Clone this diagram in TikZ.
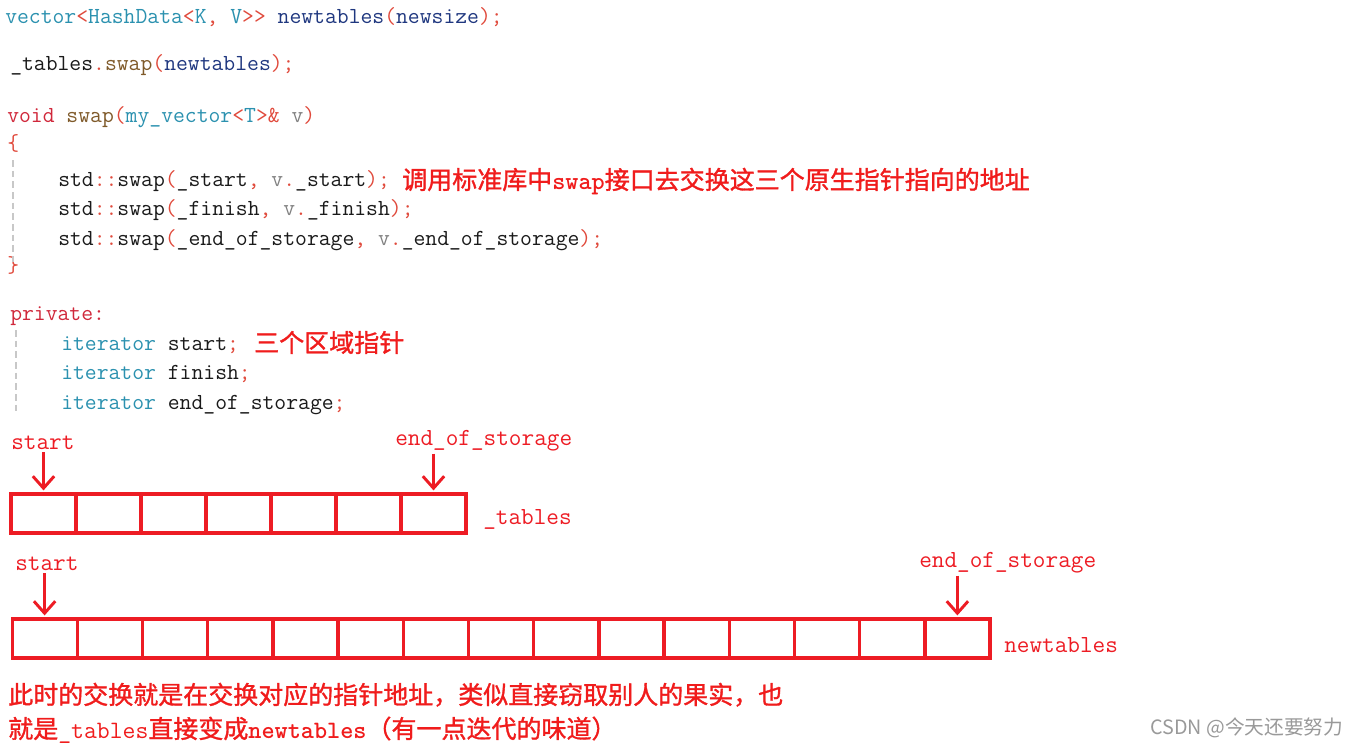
\documentclass[tikz,border=0pt]{standalone}
\usepackage{fontspec}
\newfontfamily\cjk{Noto Sans CJK SC}
\newfontfamily\cjkheavy{Noto Sans CJK SC}[FakeBold=1.3]
\usetikzlibrary{arrows.meta,positioning}
\definecolor{codetype}{HTML}{2B91AF}
\definecolor{codepunc}{HTML}{E04A3C}
\definecolor{codevar}{HTML}{1F377F}
\definecolor{codekw}{HTML}{D0283B}
\definecolor{codefn}{HTML}{7F5A2A}
\definecolor{codepar}{HTML}{808080}
\definecolor{codeink}{HTML}{1A1A1A}
\definecolor{tabred}{HTML}{ED1C24}
\definecolor{notered}{HTML}{F01C1C}
\definecolor{guidegray}{HTML}{C8C8C8}
\definecolor{markgray}{HTML}{999999}
\newcommand{\ctype}[1]{\textcolor{codetype}{#1}}
\newcommand{\cpunc}[1]{\textcolor{codepunc}{#1}}
\newcommand{\cvar}[1]{\textcolor{codevar}{#1}}
\newcommand{\ckw}[1]{\textcolor{codekw}{#1}}
\newcommand{\cfn}[1]{\textcolor{codefn}{#1}}
\newcommand{\cpar}[1]{\textcolor{codepar}{#1}}
\tikzset{
  code/.style={anchor=base west, inner sep=0pt, text=codeink, font=\ttfamily\fontsize{17.25pt}{20pt}\selectfont},
  note/.style={anchor=base west, inner sep=0pt, text=notered, font=\cjkheavy\fontsize{18.75pt}{22pt}\selectfont},
  lbl/.style={anchor=base west, inner sep=0pt, text=tabred, font=\ttfamily\fontsize{18.4pt}{22pt}\selectfont},
  cell/.style={draw=tabred, line width=2.4pt, minimum width=48.75pt, minimum height=29.25pt, inner sep=0pt},
  ptr/.style={draw=tabred, line width=2.2pt, -{Straight Barb[length=9pt,width=16pt]}, shorten <=2pt, shorten >=1.5pt},
  guide/.style={draw=guidegray, line width=1.2pt, dash pattern=on 5pt off 3pt},
}

\begin{document}
\begin{tikzpicture}[x=0.75pt,y=-0.75pt]
  \useasboundingbox (0,0) rectangle (1353,746);
  % code lines
  \node[code] (decl) at (5,23) {\ctype{vector}\cpunc{<}\ctype{HashData}\cpunc{<}\ctype{K}\cpunc{,} \ctype{V}\cpunc{>>} \cvar{newtables}\cpunc{(}\cvar{newsize}\cpunc{);}};
  \node[code] (call) at (10,70) {\_tables\cpunc{.}\cfn{swap}\cpunc{(}\cvar{newtables}\cpunc{);}};
  \node[code] (head) at (7,122) {\ckw{void} \cfn{swap}\cpunc{(}\ctype{my\_vector}\cpunc{<}\ctype{T}\cpunc{>\&} \cpar{v}\cpunc{)}};
  \node[code] (lbr) at (7,150) {\cpunc{\{}};
  \node[code] (sw1) at (58,186) {std\cpunc{::}swap\cpunc{(}\_start\cpunc{,} \cpar{v}\cpunc{.}\_start\cpunc{);}};
  \node[code] (sw2) at (58,215) {std\cpunc{::}swap\cpunc{(}\_finish\cpunc{,} \cpar{v}\cpunc{.}\_finish\cpunc{);}};
  \node[code] (sw3) at (58,245) {std\cpunc{::}swap\cpunc{(}\_end\_of\_storage\cpunc{,} \cpar{v}\cpunc{.}\_end\_of\_storage\cpunc{);}};
  \node[code] (rbr) at (7,272) {\cpunc{\}}};
  \node[note] (n1) at (402,189) {调用标准库中{\ttfamily\bfseries swap}接口去交换这三个原生指针指向的地址};
  \node[code] (priv) at (10,320) {\ckw{private:}};
  \node[code] (it1) at (61,350) {\ctype{iterator} start\cpunc{;}};
  \node[code] (it2) at (61,379) {\ctype{iterator} finish\cpunc{;}};
  \node[code] (it3) at (61,409) {\ctype{iterator} end\_of\_storage\cpunc{;}};
  \node[note] (n2) at (254,352) {三个区域指针};
  \draw[guide] (13,160) -- (13,262);
  \draw[guide] (16,330) -- (16,414);

  % _tables
  \foreach \i in {1,...,7}
    \node[cell] (a\i) at ({11+65*(\i-0.5)},513.5) {};
  \node[lbl] (sa) at (11,449) {start};
  \node[lbl] (ea) at (395,445) {end\_of\_storage};
  \node[lbl] (ta) at (483,524) {\_tables};
  \draw[ptr] (sa.south -| a1.north) -- (a1.north);
  \draw[ptr] (ea.south -| a7.north) -- (a7.north);

  % newtables
  \foreach \i in {1,...,15}
    \node[cell] (b\i) at ({12+65.2*(\i-0.5)},638.5) {};
  \node[lbl] (sb) at (15,570) {start};
  \node[lbl] (eb) at (919,567) {end\_of\_storage};
  \node[lbl] (tb) at (1004,652) {newtables};
  \draw[ptr] (sb.south -| b1.north) -- (b1.north);
  \draw[ptr] (eb.south -| b15.north) -- (b15.north);

  % notes
  \node[note] (m1) at (8,704) {此时的交换就是在交换对应的指针地址，类似直接窃取别人的果实，也};
  \node[note] (m2) at (8,738) {就是{\ttfamily\_tables}直接变成{\ttfamily\bfseries newtables}（有一点迭代的味道）};
  \node[anchor=base west, inner sep=0pt, text=markgray, font=\cjk\fontsize{14.8pt}{18pt}\selectfont] (mark) at (1150,734) {CSDN @今天还要努力};
\end{tikzpicture}
\end{document}
